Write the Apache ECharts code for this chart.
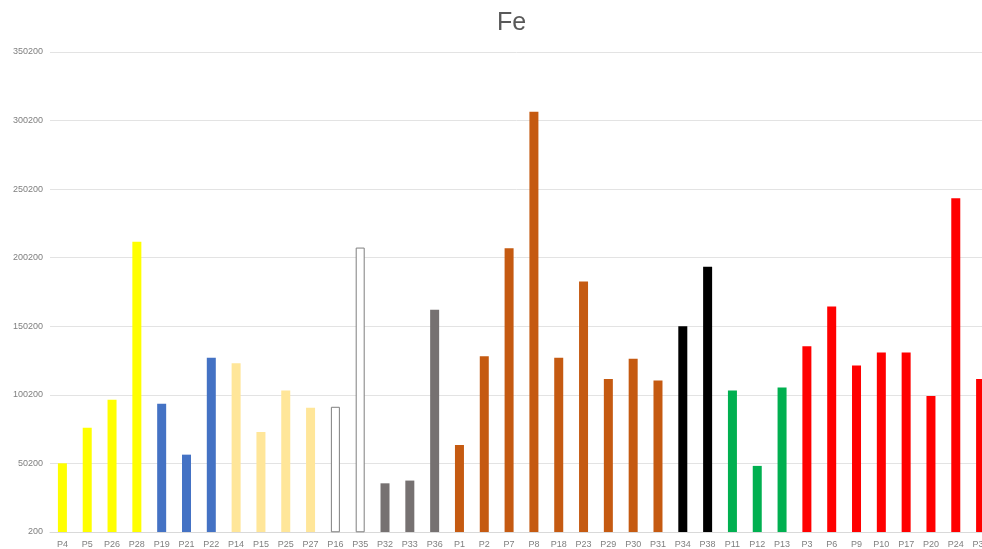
<!DOCTYPE html>
<html>
<head>
<meta charset="utf-8">
<title>Fe</title>
<script src="https://cdn.jsdelivr.net/npm/echarts@6/dist/echarts.min.js"></script>
<style>
  html, body { margin: 0; padding: 0; background: #ffffff; }
  #chart { width: 982px; height: 549px; }
</style>
</head>
<body>
<div id="chart"></div>
<script>
// Sample points, in plotting order
const categories = [
  'P4', 'P5', 'P26', 'P28', 'P19', 'P21', 'P22', 'P14', 'P15', 'P25', 'P27',
  'P16', 'P35', 'P32', 'P33', 'P36', 'P1', 'P2', 'P7', 'P8', 'P18', 'P23',
  'P29', 'P30', 'P31', 'P34', 'P38', 'P11', 'P12', 'P13', 'P3', 'P6', 'P9',
  'P10', 'P17', 'P20', 'P24', 'P37'
];

// Fe concentration per sample
const feValues = [
  50300, 76200, 96600, 211900, 93800, 56600, 127200, 123200, 73200, 103300, 90800,
  91500, 207600, 35700, 37700, 162200, 63700, 128300, 207100, 306600, 127200, 182900,
  111700, 126500, 110700, 150200, 193600, 103300, 48400, 105600, 135700, 164700, 121600,
  131100, 131100, 99400, 243600, 111700
];

// Sample group of each point (index into the group palette below)
const sampleGroup = [
  0, 0, 0, 0, 1, 1, 1, 2, 2, 2, 2,
  3, 3, 4, 4, 4, 5, 5, 5, 5, 5, 5,
  5, 5, 5, 6, 6, 7, 7, 7, 8, 8, 8,
  8, 8, 8, 8, 8
];

// Y axis tick labels
const yTicks = [200, 50200, 100200, 150200, 200200, 250200, 300200, 350200];

// Fill / outline per group
const groupStyles = [
  { color: '#FFFF00' },
  { color: '#4472C4' },
  { color: '#FFE699' },
  { color: '#FFFFFF', borderColor: '#7F7F7F', borderWidth: 1 },
  { color: '#767171' },
  { color: '#C55A11' },
  { color: '#000000' },
  { color: '#00B050' },
  { color: '#FF0000' }
];

const barData = feValues.map((v, i) => ({
  value: v,
  itemStyle: groupStyles[sampleGroup[i]]
}));

const chart = echarts.init(document.getElementById('chart'), null, { renderer: 'canvas' });

chart.setOption({
  animation: false,
  backgroundColor: '#ffffff',
  title: {
    text: 'Fe',
    left: 492,
    top: 6,
    textStyle: {
      fontFamily: 'Liberation Sans, Arial, sans-serif',
      fontSize: 25,
      fontWeight: 'normal',
      color: '#595959'
    }
  },
  grid: {
    left: 50,
    top: 52,
    width: 943,
    bottom: 17,
    containLabel: false,
    outerBoundsMode: 'none'
  },
  xAxis: {
    type: 'category',
    data: categories,
    boundaryGap: true,
    axisLine: { show: true, lineStyle: { color: '#D9D9D9', width: 1 } },
    axisTick: { show: false },
    axisLabel: {
      interval: 0,
      margin: 8,
      fontFamily: 'Liberation Sans, Arial, sans-serif',
      fontSize: 9,
      color: '#7F7F7F'
    },
    splitLine: { show: false }
  },
  yAxis: {
    type: 'value',
    min: yTicks[0],
    max: yTicks[yTicks.length - 1],
    interval: yTicks[1] - yTicks[0],
    axisLine: { show: false },
    axisTick: { show: false },
    axisLabel: {
      margin: 7,
      formatter: (v) => String(v),
      fontFamily: 'Liberation Sans, Arial, sans-serif',
      fontSize: 9,
      color: '#7F7F7F'
    },
    splitLine: { show: true, lineStyle: { color: '#E3E3E3', width: 1 } }
  },
  series: [{
    type: 'bar',
    data: barData,
    barWidth: 9,
    silent: true
  }]
});
</script>
</body>
</html>
